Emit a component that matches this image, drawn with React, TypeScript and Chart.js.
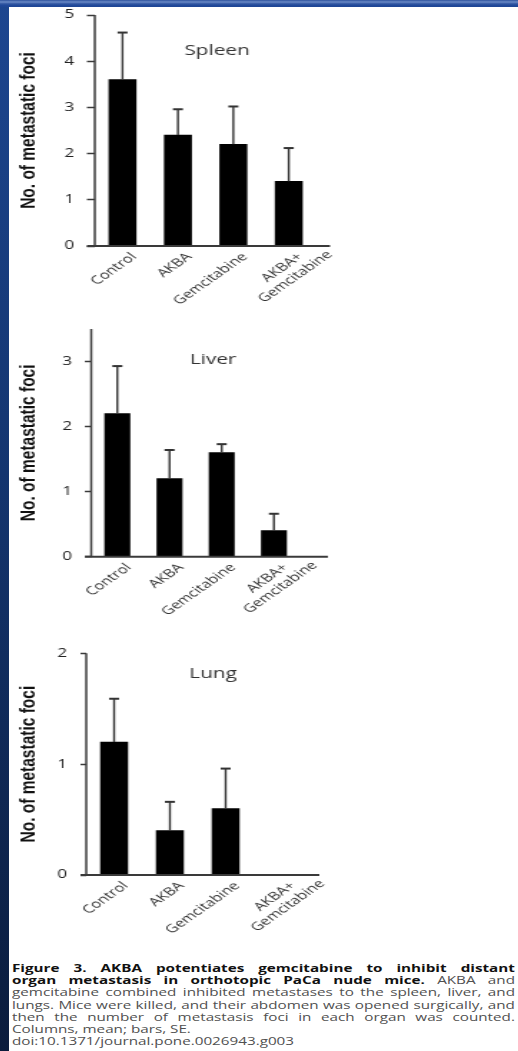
import React, { useEffect, useRef } from 'react';
import { Chart, registerables } from 'chart.js';

Chart.register(...registerables);

// ---------- data ----------
const categories: (string | string[])[] = ['Control', 'AKBA', 'Gemcitabine', ['AKBA+', 'Gemcitabine']];
const yTitle = 'No. of metastatic foci';

const spleenMeans = [3.6, 2.4, 2.2, 1.4];
const spleenSE = [1.02, 0.56, 0.82, 0.72];
const spleenMax = 5;

const liverMeans = [2.2, 1.2, 1.6, 0.4];
const liverSE = [0.73, 0.44, 0.13, 0.26];
const liverMax = 3.5;

const lungMeans = [1.2, 0.4, 0.6, 0];
const lungSE = [0.39, 0.26, 0.36, 0];
const lungMax = 2;

const captionBold1 = 'Figure 3. AKBA potentiates gemcitabine to inhibit distant';
const captionBold2 = 'organ metastasis in orthotopic PaCa nude mice.';
const captionLines = [
  'AKBA and',
  'gemcitabine combined inhibited metastases to the spleen, liver, and',
  'lungs. Mice were killed, and their abdomen was opened surgically, and',
  'then the number of metastasis foci in each organ was counted.',
  'Columns, mean; bars, SE.',
  'doi:10.1371/journal.pone.0026943.g003',
];

// ---------- layout ----------
const SX = 1.43; // horizontal stretch of the figure
const CAP_SX = 1.45; // horizontal stretch of the caption

type Panel = {
  title: string;
  means: number[];
  se: number[];
  yMax: number;
  top: number;
  w: number;
  h: number;
  padTop: number;
  padRight: number;
  yWidth: number;
  xHeight: number;
  barW: number;
  tickLen: number;
  tickPad: number;
  titleX: number;
  titleY: number;
  axisExtra: number;
};

const panels: Panel[] = [
  {
    title: 'Spleen', means: spleenMeans, se: spleenSE, yMax: spleenMax,
    top: -2, w: 250, h: 312, padTop: 17, padRight: 35, yWidth: 60, xHeight: 64,
    barW: 18.9, tickLen: 5.5, tickPad: 9, titleX: 145.5, titleY: 53, axisExtra: 9.5,
  },
  {
    title: 'Liver', means: liverMeans, se: liverSE, yMax: liverMax,
    top: 305, w: 250, h: 315, padTop: 24, padRight: 46.5, yWidth: 57.5, xHeight: 63.3,
    barW: 17.5, tickLen: 4.5, tickPad: 9, titleX: 142.7, titleY: 55, axisExtra: 19.5,
  },
  {
    title: 'Lung', means: lungMeans, se: lungSE, yMax: lungMax,
    top: 625, w: 250, h: 320, padTop: 28.3, padRight: 40, yWidth: 54, xHeight: 70,
    barW: 18.9, tickLen: 4, tickPad: 9.5, titleX: 142.7, titleY: 49, axisExtra: 7,
  },
];

// ---------- plugins ----------
const axisLines = {
  id: 'axisLines',
  afterDatasetsDraw(chart: any, _a: any, opts: any) {
    const { ctx, chartArea } = chart;
    const { left, right, top, bottom } = chartArea;
    ctx.save();
    ctx.strokeStyle = '#3a3a3a';
    ctx.lineWidth = 1.5;
    ctx.beginPath();
    ctx.moveTo(left, top);
    ctx.lineTo(left, bottom);
    ctx.stroke();
    ctx.lineWidth = 2;
    ctx.beginPath();
    ctx.moveTo(left - opts.tickLen, bottom);
    ctx.lineTo(right + opts.extra, bottom);
    ctx.stroke();
    ctx.restore();
  },
};

const errBars = {
  id: 'errBars',
  afterDatasetsDraw(chart: any, _a: any, opts: any) {
    const { ctx } = chart;
    const yScale = chart.scales.y;
    const meta = chart.getDatasetMeta(0);
    const vals = chart.data.datasets[0].data as number[];
    ctx.save();
    ctx.strokeStyle = '#333';
    meta.data.forEach((bar: any, i: number) => {
      const se = opts.se[i];
      if (!se) return;
      const yTop = yScale.getPixelForValue(vals[i] + se);
      ctx.lineWidth = 1.4;
      ctx.beginPath();
      ctx.moveTo(bar.x, bar.y);
      ctx.lineTo(bar.x, yTop);
      ctx.stroke();
      ctx.lineWidth = 2;
      ctx.beginPath();
      ctx.moveTo(bar.x - 3.5, yTop);
      ctx.lineTo(bar.x + 3.5, yTop);
      ctx.stroke();
    });
    ctx.restore();
  },
};

const xLabels = {
  id: 'xLabels',
  afterDraw(chart: any, _a: any, opts: any) {
    const { ctx, chartArea } = chart;
    const xs = chart.scales.x;
    ctx.save();
    ctx.font = `${opts.size}px "Open Sans"`;
    ctx.fillStyle = opts.color;
    ctx.textBaseline = 'middle';
    ctx.textAlign = 'center';
    (chart.data.labels as any[]).forEach((lab: any, i: number) => {
      const lines: string[] = Array.isArray(lab) ? lab : [lab];
      const w0 = ctx.measureText(lines[0]).width;
      const x = xs.getPixelForTick(i) + opts.ox;
      const y = chartArea.bottom + opts.oy;
      ctx.save();
      ctx.translate(x, y);
      ctx.rotate(-Math.PI / 4);
      lines.forEach((ln, j) => ctx.fillText(ln, -w0 / 2, j * opts.lh));
      ctx.restore();
    });
    ctx.restore();
  },
};

const panelTitle = {
  id: 'panelTitle',
  afterDraw(chart: any, _a: any, opts: any) {
    const { ctx } = chart;
    ctx.save();
    ctx.fillStyle = '#333';
    ctx.font = '14.5px "Open Sans"';
    ctx.textAlign = 'center';
    ctx.textBaseline = 'middle';
    ctx.fillText(opts.text, opts.x, opts.y);
    ctx.restore();
  },
};

function BarPanel({ cfg }: { cfg: Panel }) {
  const ref = useRef<HTMLCanvasElement>(null);
  useEffect(() => {
    const chart = new Chart(ref.current as HTMLCanvasElement, {
      type: 'bar',
      data: {
        labels: categories as any,
        datasets: [
          {
            data: cfg.means,
            backgroundColor: '#000',
            borderWidth: 0,
            barThickness: cfg.barW,
          },
        ],
      },
      options: {
        responsive: false,
        animation: false,
        devicePixelRatio: 1,
        layout: { padding: { top: cfg.padTop, right: cfg.padRight, left: 0, bottom: 0 } },
        plugins: {
          legend: { display: false },
          tooltip: { enabled: false },
          axisLines: { tickLen: cfg.tickLen, extra: cfg.axisExtra },
          errBars: { se: cfg.se },
          xLabels: { size: 11.5, color: '#333', ox: 8, oy: 9, lh: 13 },
          panelTitle: { text: cfg.title, x: cfg.titleX, y: cfg.titleY },
        } as any,
        scales: {
          x: {
            offset: true,
            grid: { display: false },
            border: { display: false },
            ticks: { display: false },
            afterFit: (s: any) => {
              s.height = cfg.xHeight;
            },
          },
          y: {
            min: 0,
            max: cfg.yMax,
            ticks: {
              stepSize: 1,
              padding: cfg.tickPad,
              color: '#222',
              font: { family: 'Open Sans', size: 12 },
            },
            afterBuildTicks: (s: any) => {
              s.ticks = s.ticks.filter((t: any) => Number.isInteger(t.value));
            },
            grid: {
              drawOnChartArea: false,
              drawTicks: true,
              tickLength: cfg.tickLen,
              tickWidth: 1.5,
              tickColor: '#3a3a3a',
            },
            border: { display: false },
            title: {
              display: true,
              text: yTitle,
              color: '#111',
              font: { family: 'Liberation Sans', weight: 'bold', size: 15.5 },
              padding: { top: 4, bottom: 0 },
            },
            afterFit: (s: any) => {
              s.width = cfg.yWidth;
            },
          },
        },
      },
      plugins: [axisLines, errBars, xLabels, panelTitle],
    });
    return () => chart.destroy();
  }, [cfg]);
  return (
    <div
      style={{
        position: 'absolute',
        left: 9,
        top: cfg.top,
        width: cfg.w,
        height: cfg.h,
        transform: `scaleX(${SX})`,
        transformOrigin: '0 0',
      }}
    >
      <canvas ref={ref} width={cfg.w} height={cfg.h} style={{ width: cfg.w, height: cfg.h, display: 'block' }} />
    </div>
  );
}

type Part = { text: string; bold: boolean };

const boldStyle: React.CSSProperties = { color: '#111', fontWeight: 700 };
const normalStyle: React.CSSProperties = { color: '#505050', fontWeight: 400 };

function JustLine({ parts }: { parts: Part[] }) {
  const words: { w: string; bold: boolean }[] = [];
  parts.forEach((p) => p.text.split(' ').filter(Boolean).forEach((w) => words.push({ w, bold: p.bold })));
  return (
    <div style={{ display: 'flex', justifyContent: 'space-between', height: 12.2, lineHeight: '12.2px', whiteSpace: 'nowrap' }}>
      {words.map((x, i) => (
        <span key={i} style={x.bold ? boldStyle : normalStyle}>
          {x.w}
        </span>
      ))}
    </div>
  );
}

function Caption() {
  return (
    <div
      style={{
        position: 'absolute',
        left: 12,
        top: 962,
        width: 503 / CAP_SX,
        transform: `scaleX(${CAP_SX})`,
        transformOrigin: '0 0',
        fontFamily: '"Open Sans", sans-serif',
        fontSize: 10.5,
      }}
    >
      <JustLine parts={[{ text: captionBold1, bold: true }]} />
      <JustLine parts={[{ text: captionBold2, bold: true }, { text: captionLines[0], bold: false }]} />
      <JustLine parts={[{ text: captionLines[1], bold: false }]} />
      <JustLine parts={[{ text: captionLines[2], bold: false }]} />
      <JustLine parts={[{ text: captionLines[3], bold: false }]} />
      <div style={{ ...normalStyle, height: 12.2, lineHeight: '12.2px', whiteSpace: 'nowrap' }}>{captionLines[4]}</div>
      <div style={{ ...normalStyle, height: 12.2, lineHeight: '12.2px', whiteSpace: 'nowrap' }}>{captionLines[5]}</div>
    </div>
  );
}

export default function App() {
  return (
    <div
      style={{
        position: 'absolute',
        left: 0,
        top: 0,
        width: 518,
        height: 1051,
        overflow: 'hidden',
        background: 'linear-gradient(to bottom, #1d4690 0%, #14356f 45%, #0b1c3c 100%)',
      }}
    >
      <div
        style={{
          position: 'absolute',
          left: 0,
          top: 0,
          width: 518,
          height: 7,
          background:
            'linear-gradient(to bottom, #2e529c 0px, #6a8ac6 2px, #3b5fa8 3.5px, #21499a 5px, #1e4594 7px)',
        }}
      />
      <div style={{ position: 'absolute', left: 9, top: 7, right: 0, bottom: 0, background: '#fff' }} />
      {panels.map((p) => (
        <BarPanel key={p.title} cfg={p} />
      ))}
      <Caption />
    </div>
  );
}
